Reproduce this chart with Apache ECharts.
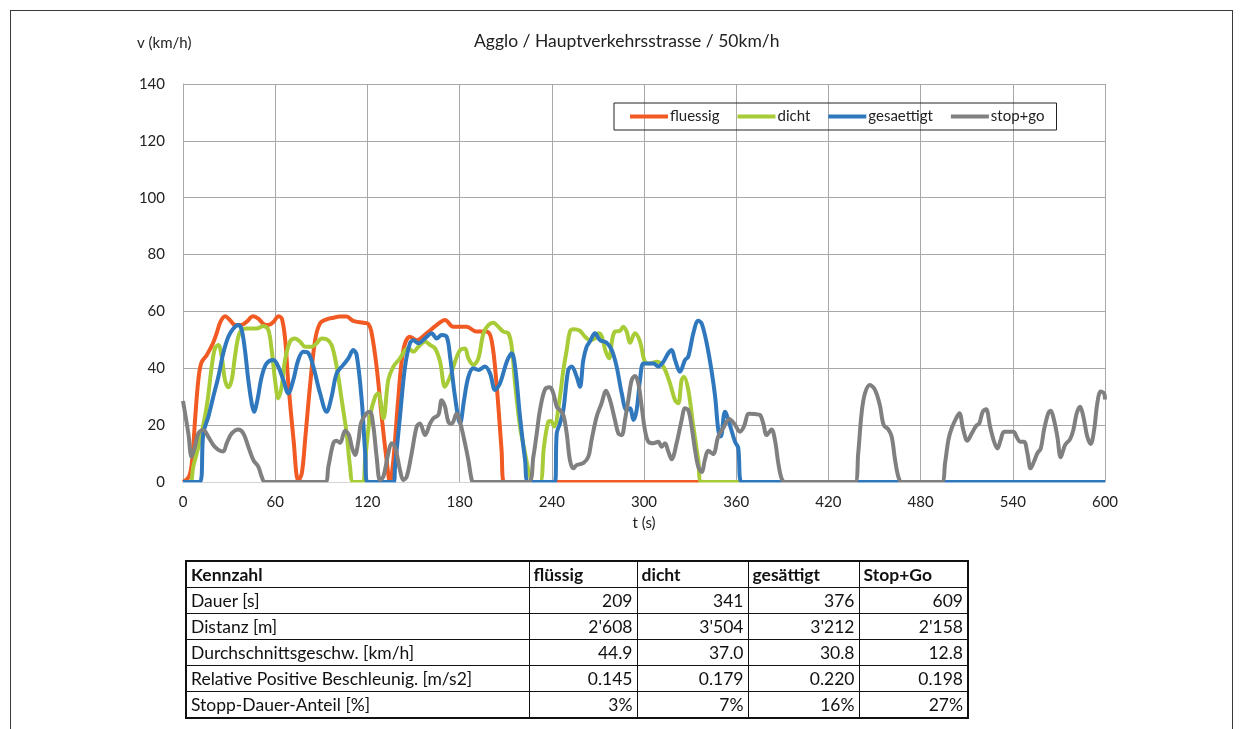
<!DOCTYPE html>
<html>
<head>
<meta charset="utf-8">
<script src="https://cdn.jsdelivr.net/npm/echarts@6/dist/echarts.min.js"></script>
<style>
  html, body { margin: 0; padding: 0; background: #fff; }
  body { width: 1244px; height: 729px; position: relative; overflow: hidden; font-family: Lato, 'Open Sans', sans-serif; }
  #frame { position: absolute; left: 10px; top: 10px; width: 1223px; height: 760px; border: 1px solid #3a3a3a; box-sizing: border-box; }
  #chart { position: absolute; left: 0; top: 0; width: 1244px; height: 729px; }
  #kz { position: absolute; left: 185px; top: 560px; border-collapse: collapse; border: 2px solid #111; font-family: Lato, sans-serif; font-size: 17.5px; color: #111; }
  #kz td, #kz th { border: 1px solid #111; height: 25px; padding: 0 4px; line-height: 25px; white-space: nowrap; }
  #kz th { font-weight: bold; text-align: left; }
  #kz td.num { text-align: right; }
</style>
</head>
<body>
<div id="frame"></div>
<div id="chart"></div>
<table id="kz"></table>
<script>
// ---------- data ----------
const seriesNames = ['fluessig', 'dicht', 'gesaettigt', 'stop+go'];
const xTicks = [0, 60, 120, 180, 240, 300, 360, 420, 480, 540, 600];
const yTicks = [0, 20, 40, 60, 80, 100, 120, 140];

const fluessig = [[0,0],[4,2],[6,8],[8,23],[10,36],[12,42],[15.5,44.7],[19.5,48.8],[22,52.5],[24.5,56.5],[27.5,58.3],[30.5,57],[34,55.2],[38,55.2],[41.5,56.4],[45.5,58.3],[49,57.5],[52.5,55.5],[55.5,55.2],[59,56.4],[62,58.3],[64.3,57.5],[66.5,50],[68.5,35],[72,14.5],[75,0.5],[77.3,3],[79.5,15],[82.6,33.5],[86,50],[89.2,55.8],[93.5,57.2],[98,57.8],[102,58.2],[106.5,58.2],[110.8,56.7],[117.4,56],[120.6,55.6],[122.8,52.3],[126,40.5],[129.3,23],[132.5,7.7],[134.7,0],[136.9,7.7],[140,28.8],[143.4,46.4],[147.7,51.1],[152,49.9],[158.5,52.3],[165,55.2],[170.5,57],[175.9,54.6],[184.6,54.6],[191,52.9],[197.5,52.9],[200.8,49.9],[204,34.7],[207.3,11.3],[209,0],[600,0]];

const dicht = [[0,0],[4.6,0],[6.7,5.4],[11.1,14.8],[15.4,26.5],[18.7,40.6],[20.8,47],[23,48.2],[25.2,44.1],[27.3,35.9],[29.5,33.3],[31.7,35.9],[33.8,44.1],[36,51.1],[38.2,53.5],[41.4,54],[47.9,54],[52.3,54.9],[55.5,53.5],[57.7,46.4],[59.9,35.9],[62,29.4],[64.2,33.5],[66.4,42.9],[69.6,49.4],[72.9,50.5],[76.1,49.4],[79.4,47.6],[83.7,47.6],[87,48.8],[90.2,50.5],[93.5,50.2],[96.7,48.2],[100,40.6],[103.3,28.8],[106.5,17.1],[108.7,5.4],[110.8,0],[117,0],[118.5,7.7],[121.7,23],[125,30],[127.1,31.2],[130.4,22.4],[133.6,35.9],[136.9,40.6],[141.2,43.5],[144.5,46.4],[146.7,47],[149.9,45.8],[153.2,47.6],[157.5,49.4],[160.8,48.2],[164,47],[167.3,42.3],[170.5,33.5],[173.8,37],[177,42.3],[180.3,46.4],[183.5,47],[185.7,43.5],[189,41.2],[192.2,43.5],[195.5,52.3],[198.7,55.2],[202,56],[205.2,54.6],[208.5,52.9],[211.7,52.3],[213.9,47.6],[216.1,34.7],[219.3,19.5],[222.6,10.1],[225.8,1.9],[228,0],[232.3,0],[234.9,12.4],[237.7,21.2],[239.5,21.5],[241.5,19.5],[245.3,30],[247.5,39.4],[249.7,46.4],[251.8,52.9],[254,53.7],[258.3,53.2],[261.6,51.1],[264.9,49.9],[268.1,50.5],[270.3,52.3],[272.4,51.4],[275,46],[277.3,43.5],[279.3,50],[281.1,52.9],[284.4,53.2],[286.5,54.6],[288.7,52.9],[290.9,49],[294.1,52.3],[297.4,49.4],[300.6,42.3],[303.9,41.7],[308.2,42.3],[312.6,40.6],[316.9,34.7],[320.2,28.8],[322.3,27.7],[324.5,35.9],[326,37],[328.8,32.4],[332.1,19.5],[335.3,7.7],[337.5,0],[600,0]];

const gesaettigt = [[0,0],[11,0],[13.2,17],[16.5,23],[19.7,30],[23,37],[26.2,45.3],[29.5,51.1],[32.8,54],[36,55.2],[38.2,53.5],[40.3,46.4],[42.5,35.9],[44.7,27.7],[46.2,24.7],[48.4,28.8],[51.2,37],[54.4,41.7],[58.8,42.9],[62,40.6],[65.3,35.9],[68.5,31.2],[71.8,35.9],[75,42.9],[78.3,45.8],[81.6,45.3],[84.8,40.6],[89.2,31.2],[93.5,24.7],[96.7,30],[100,38.2],[104.3,41.2],[107.6,43.5],[110.8,46.4],[113,44.7],[116.3,28.8],[118.4,11.3],[120,0],[137,0],[138,5.4],[141.2,23],[144.5,40.6],[147.7,48.8],[149.9,49.9],[153.2,48.8],[157.5,50.5],[161.8,52.3],[165.1,50.5],[168.3,51.7],[171.6,51.1],[173.8,44.1],[177,30],[180.3,20.6],[182.9,28.8],[185.7,37],[189,40],[192.2,39.4],[196.5,40.6],[199.8,38.2],[203.1,32.4],[206.3,34.7],[210.7,42.3],[213.9,45.3],[216.1,40.6],[219.3,23],[222.6,7.7],[224.7,0],[242,0],[243.2,17.1],[245.3,20.6],[247.5,25.3],[250.7,39.4],[252.9,40.6],[256.2,37],[258.3,33.5],[260.5,42.9],[262.7,47.6],[264.8,49.4],[268.1,52.3],[271.4,49.9],[275.7,49],[279,46.4],[282.2,40.6],[285.5,31.2],[288.7,25.3],[290.9,25.9],[293.1,21.8],[295.2,25.3],[297.4,35.9],[299.6,41.7],[302.8,41.7],[306.1,41.7],[309.3,40.6],[312.6,42.3],[315.8,45.3],[318,46.4],[320.2,42.9],[323.4,38.8],[326.7,42.9],[328.8,44.1],[332.1,52.3],[335.3,56.7],[337.5,55.8],[340.8,48.8],[344,39],[346.3,30],[348.4,18],[350,16],[352.7,24.7],[355.9,20],[359.2,14.2],[361.3,12],[363.5,0],[600,0]];

const stopGo = [[0,28.5],[3.5,17],[5.6,8.9],[7.8,12.4],[10,17.1],[13.2,18.3],[16.5,15.9],[19.7,13],[23,11.3],[26.2,10.7],[28.4,13.6],[31.7,17.1],[36,18.5],[39.3,17.1],[42.5,12.4],[45.8,7.7],[49,5.4],[51.2,1.9],[53.4,0],[92.4,0],[94.6,5.4],[97.8,13.6],[100,14.5],[102.2,13.8],[105.5,18],[108,16.5],[110,12],[112,9.5],[114,14],[116,21],[119.5,24.2],[121.7,24.7],[123.9,19.5],[126,8.9],[128.2,0.7],[130.4,1.9],[133.6,10.1],[135.8,13.6],[138,12.4],[141.2,4.2],[143.4,0.7],[145.6,1.9],[148.8,10.1],[152.1,19.5],[154.2,20.6],[157.5,16.5],[160.8,20.6],[162.9,22.4],[166.2,23.6],[168.3,28.8],[170.5,26.5],[172.7,21.1],[174.9,20.5],[178.1,24.1],[180.3,21.1],[183.5,13.6],[185.7,7.7],[187.9,0.7],[189,0],[224.7,0],[228,8.9],[230.2,17.1],[232.3,25.3],[235.6,32.6],[238.8,33.3],[241,31.2],[243.2,26.5],[245.3,25.3],[247.5,23.6],[249.7,17.1],[251.8,7.7],[254,4.8],[256.2,6],[260.5,6.6],[263.8,8.9],[265.9,14.8],[269.2,23],[272.4,27.7],[275.3,32.1],[277.9,28.8],[281.1,21.8],[283.3,17.1],[285.5,16.5],[287.6,21.8],[289.8,28.8],[292,35.9],[294.1,37.3],[296.3,34.7],[298.5,26.5],[300.6,18.3],[302.8,14.2],[306.1,13.6],[309.3,14.2],[311.5,12.4],[313.7,13.6],[315.8,10.7],[318,8],[321.2,13.6],[324.5,21.8],[326.7,25.9],[328.8,25.3],[331,19.5],[333.2,11.3],[335.3,5.4],[337.5,3.5],[339.7,8],[341.8,11],[345,9.8],[348.3,16],[351.6,19],[355.5,22.2],[359,20.3],[362.4,17.7],[365,19.5],[368.3,24],[372.2,23.9],[375.4,23.6],[377.6,20.6],[379.8,16.5],[383,18.5],[385.2,14.8],[387.4,6.6],[389.5,1.3],[391.7,0],[437.3,0],[439.4,10.1],[441.6,24.2],[443.8,31.2],[447,34.1],[450.3,32.4],[453.5,27],[456,20],[459,18.5],[461.2,15.9],[463.4,7.7],[465.5,1.9],[467.7,0],[493.7,0],[495.9,6.6],[498.1,14.8],[500.2,18.9],[503.1,22.4],[505.2,24.2],[507.8,18.3],[510.4,14.5],[513.3,17.1],[516.1,19.7],[518.2,20.6],[520.4,24.7],[522.6,25.6],[525.2,19.5],[527.8,14.2],[530,11.8],[532.1,14.8],[534.3,17.7],[537.1,17.7],[540.4,17.7],[542.5,15.9],[544.7,14.2],[547.3,14.2],[549.5,10.1],[551.6,4.8],[553.8,7.2],[556,10.1],[558.2,11.8],[560.3,18.3],[563.1,24.2],[564.7,25.1],[566.8,21.8],[569,15.9],[571.2,8.7],[574,13],[577.2,15],[579.4,18.3],[581.6,24.2],[583.8,26.5],[585.9,23],[588.5,15.9],[590.7,13.4],[592.9,18.3],[595,27.7],[597.2,31.8],[599.4,31.2],[600,29]];

const tableHeader = ['Kennzahl', 'flüssig', 'dicht', 'gesättigt', 'Stop+Go'];
const tableRowLabels = ['Dauer [s]', 'Distanz [m]', 'Durchschnittsgeschw. [km/h]', 'Relative Positive Beschleunig. [m/s2]', 'Stopp-Dauer-Anteil [%]'];
const tableFluessig = ['209', "2'608", '44.9', '0.145', '3%'];
const tableDicht = ['341', "3'504", '37.0', '0.179', '7%'];
const tableGesaettigt = ['376', "3'212", '30.8', '0.220', '16%'];
const tableStopGo = ['609', "2'158", '12.8', '0.198', '27%'];

const colors = ['#F25A24', '#A8CC38', '#2F78BE', '#808080'];

// ---------- table ----------
(function () {
  const t = document.getElementById('kz');
  const widths = [343, 108, 111, 111, 109];
  let html = '<colgroup>' + widths.map(w => '<col style="width:' + w + 'px">').join('') + '</colgroup>';
  html += '<tr>' + tableHeader.map(h => '<th>' + h + '</th>').join('') + '</tr>';
  const cols = [tableFluessig, tableDicht, tableGesaettigt, tableStopGo];
  tableRowLabels.forEach((lab, i) => {
    html += '<tr><td>' + lab + '</td>' + cols.map(c => '<td class="num">' + c[i] + '</td>').join('') + '</tr>';
  });
  t.innerHTML = html;
  t.style.tableLayout = 'fixed';
  t.style.width = widths.reduce((a, b) => a + b, 0) + 'px';
})();

// ---------- chart ----------
const chart = echarts.init(document.getElementById('chart'), null, { renderer: 'canvas' });
const fontFamily = 'Lato';
const seriesData = [fluessig, dicht, gesaettigt, stopGo];

const titleGraphics = [
  { type: 'text', left: 474, top: 32, style: { text: 'Agglo / Hauptverkehrsstrasse / 50km/h', fontFamily: fontFamily, fontSize: 17.5, fill: '#222' } },
  { type: 'text', left: 137, top: 36, style: { text: 'v (km/h)', fontFamily: fontFamily, fontSize: 15, fill: '#222' } }
];

const option = {
  animation: false,
  backgroundColor: 'transparent',
  textStyle: { fontFamily: fontFamily, color: '#222' },
  grid: { left: 183, right: 139, top: 84, bottom: 247, containLabel: false },
  legend: {
    data: seriesNames,
    left: 614, top: 103, width: 441,
    itemWidth: 38, itemHeight: 4, itemGap: 18,
    icon: 'rect',
    padding: [6, 12, 6, 16],
    borderColor: '#222', borderWidth: 1,
    textStyle: { fontFamily: fontFamily, fontSize: 15, color: '#222', padding: [0, 0, 0, -3] }
  },
  xAxis: {
    type: 'value', min: 0, max: 600, interval: 60,
    name: 't (s)', nameLocation: 'middle', nameGap: 34,
    nameTextStyle: { fontFamily: fontFamily, fontSize: 15, color: '#222' },
    axisLine: { show: true, lineStyle: { color: '#a8a8a8' } },
    axisTick: { show: false },
    axisLabel: { margin: 13, fontSize: 15, color: '#222', fontFamily: fontFamily },
    splitLine: { show: true, lineStyle: { color: '#a8a8a8', width: 1 } }
  },
  yAxis: {
    type: 'value', min: 0, max: 140, interval: 20,
    axisLine: { show: true, lineStyle: { color: '#a8a8a8' } },
    axisTick: { show: false },
    axisLabel: { margin: 18, fontSize: 15, color: '#222', fontFamily: fontFamily },
    splitLine: { show: true, lineStyle: { color: '#a8a8a8', width: 1 } }
  },
  graphic: titleGraphics,
  series: seriesData.map((d, i) => ({
    name: seriesNames[i],
    type: 'line',
    data: d,
    showSymbol: false,
    symbol: 'none',
    smooth: 0.35,
    clip: true,
    color: colors[i],
    lineStyle: { width: 4, color: colors[i] },
    z: 2 + i
  }))
};
chart.setOption(option);

// hide the lower half of lines lying on the x axis (the reference plot area clips them)
const p0 = chart.convertToPixel({ gridIndex: 0 }, [0, 0]);
const p1 = chart.convertToPixel({ gridIndex: 0 }, [600, 0]);
chart.setOption({
  graphic: titleGraphics.concat([
    { type: 'rect', z: 1000, zlevel: 0, silent: true,
      shape: { x: p0[0] - 3, y: p0[1] + 0.5, width: p1[0] - p0[0] + 6, height: 3 },
      style: { fill: '#ffffff' } }
  ])
}, { replaceMerge: ['graphic'] });
</script>
</body>
</html>
